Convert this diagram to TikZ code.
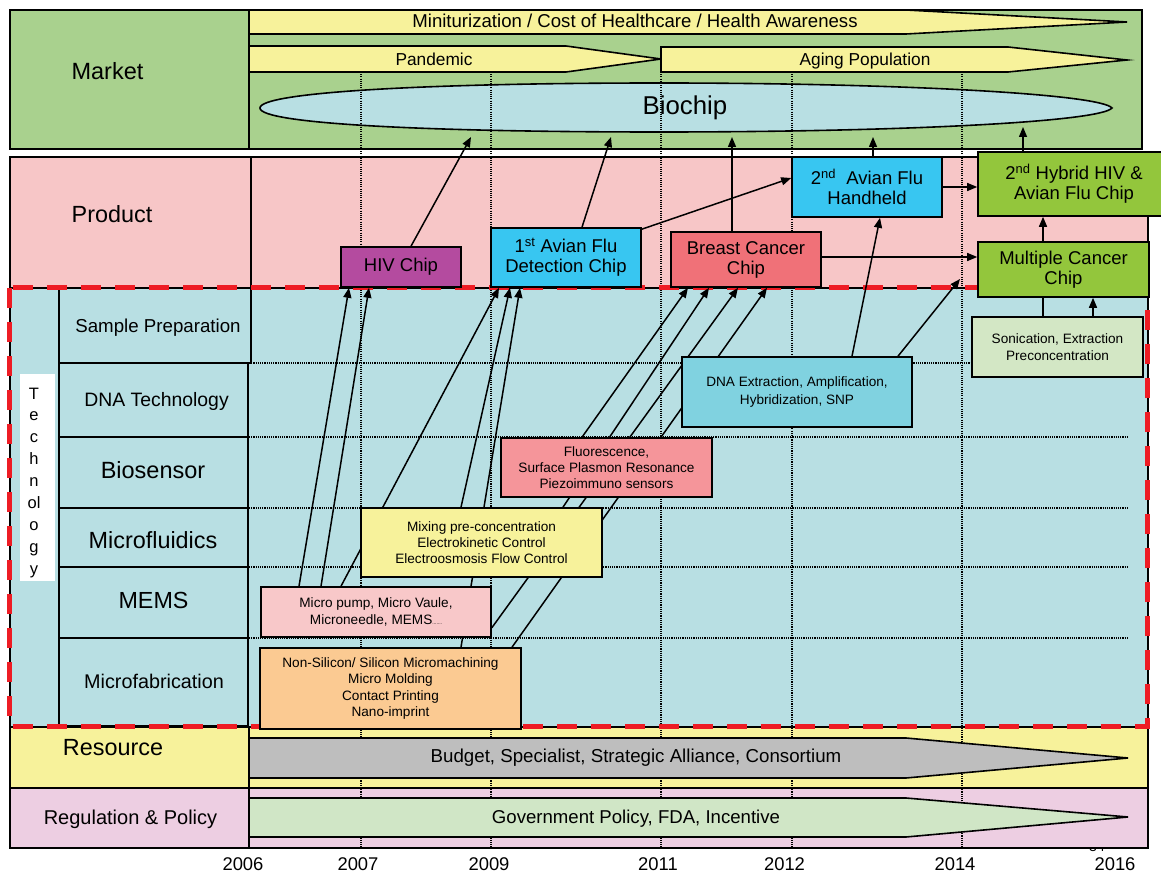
\documentclass[tikz,border=0pt]{standalone}
\usepackage{fontspec}
\setmainfont{Liberation Sans}
\usetikzlibrary{arrows.meta}
\pgfdeclarelayer{back}
\pgfdeclarelayer{mid}
\pgfsetlayers{back,mid,main}
\definecolor{mkt}{HTML}{A9D18E}
\definecolor{ylw}{HTML}{F7F29B}
\definecolor{bio}{HTML}{B8DFE3}
\definecolor{prd}{HTML}{F7C6C7}
\definecolor{hivc}{HTML}{B44B9F}
\definecolor{cyanc}{HTML}{38C6F1}
\definecolor{brc}{HTML}{F07178}
\definecolor{grn}{HTML}{93C63C}
\definecolor{sonc}{HTML}{D3E7C5}
\definecolor{dnac}{HTML}{80D2E0}
\definecolor{fluc}{HTML}{F5959A}
\definecolor{mpc}{HTML}{F8C8C9}
\definecolor{nsc}{HTML}{FBCA92}
\definecolor{gry}{HTML}{BEBEBE}
\definecolor{regc}{HTML}{EDCEE2}
\definecolor{govc}{HTML}{D0E6C6}
\definecolor{redd}{HTML}{EE1C24}
\begin{document}
\begin{tikzpicture}[x=1pt,y=-1pt,
  frame/.style={line width=1.6pt},
  prod/.style={draw, line width=1.6pt, inner sep=0pt, align=center, font=\fontsize{18.5}{20}\selectfont},
  techbox/.style={draw, line width=1.6pt, inner sep=0pt, align=center, font=\fontsize{13.6}{16.3}\selectfont},
  conn/.style={line width=1.5pt, -{Triangle[length=10pt,width=8pt]}},
  gridline/.style={line width=1.1pt, dash pattern=on 1.1pt off 1.1pt},
  lbl/.style={anchor=base, inner sep=0pt},
  bigarrow/.style={line width=1.6pt},
  reddash/.style={draw=redd, line width=5pt, dash pattern=on 20pt off 14pt}
]
\useasboundingbox (0,0) rectangle (1161,874);

\begin{pgfonlayer}{back}
  \node[lbl, font=\fontsize{14}{14}\selectfont] (pg) at (1097,851) {34};
  % Market
  \draw[frame, fill=mkt] (10,10) rectangle (1142,149);
  \draw[frame] (249,10) -- (249,149);
  % Product
  \draw[frame, fill=prd] (10,157) rectangle (1148,288);
  \draw[frame] (251,157) -- (251,288);
  % Technology
  \draw[frame, fill=bio] (10,288) rectangle (1148,727);
  \fill[white] (20,374) rectangle (55,581);
  \draw[frame] (59,288) rectangle (251,363);
  \draw[frame] (59,363) rectangle (248,437);
  \draw[frame] (59,437) rectangle (248,508);
  \draw[frame] (59,508) rectangle (248,567);
  \draw[frame] (59,567) rectangle (248,638);
  \draw[frame] (59,638) rectangle (248,726);
  % Resource / Regulation
  \draw[frame, fill=ylw] (10,727) rectangle (1148,788);
  \draw[frame] (249,727) -- (249,788);
  \draw[frame, fill=regc] (10,788) rectangle (1148,848);
  \draw[frame] (249,788) -- (249,848);
  % Biochip lens
  \draw[frame, fill=bio] (260,108) .. controls (260,92) and (430,83) .. (660,83)
     .. controls (900,83) and (1100,94) .. (1112,108)
     .. controls (1100,122) and (900,132) .. (660,132)
     .. controls (430,132) and (260,124) .. (260,108) -- cycle;
  % grid
  \foreach \gx in {361,491,661,792,962} \draw[gridline] (\gx,72) -- (\gx,848);
  \foreach \gy in {363,437,508,567,638} \draw[gridline] (249,\gy) -- (1128,\gy);
\end{pgfonlayer}

\begin{pgfonlayer}{mid}
  \draw[reddash] (9,288) rectangle (1147,726);
  \draw[bigarrow, fill=ylw] (249,10) -- (906,10) -- (1127,22) -- (906,34) -- (249,34) -- cycle;
  \draw[bigarrow, fill=ylw] (249,46) -- (566,46) -- (661,59) -- (566,72) -- (249,72) -- cycle;
  \draw[bigarrow, fill=ylw] (661,47) -- (1008,47) -- (1127,60) -- (1008,72) -- (661,72) -- cycle;
  \draw[bigarrow, fill=gry] (249,738) -- (906,738) -- (1128,758) -- (906,778) -- (249,778) -- cycle;
  \draw[bigarrow, fill=govc] (249,798) -- (906,798) -- (1128,817) -- (906,837) -- (249,837) -- cycle;
\end{pgfonlayer}

% row labels
\node[lbl, font=\fontsize{23.5}{26}\selectfont] (lmarket) at (107.5,80) {Market};
\node[lbl, font=\fontsize{23.4}{26}\selectfont] (lproduct) at (112,222.5) {Product};
\node[lbl, font=\fontsize{23.4}{26}\selectfont] (lresource) at (113,755) {Resource};
\node[lbl, font=\fontsize{20}{22}\selectfont] (lreg) at (130.5,824) {Regulation \& Policy};
\node[lbl, font=\fontsize{18.7}{20}\selectfont] (lsp) at (158,332.7) {Sample Preparation};
\node[lbl, font=\fontsize{19.4}{21}\selectfont] (ldna) at (156.5,406) {DNA Technology};
\node[lbl, font=\fontsize{23.5}{26}\selectfont] (lbio) at (153,478) {Biosensor};
\node[lbl, font=\fontsize{23.4}{26}\selectfont] (lmf) at (153,548) {Microfluidics};
\node[lbl, font=\fontsize{23.3}{26}\selectfont] (lmems) at (153.5,608) {MEMS};
\node[lbl, font=\fontsize{19.8}{22}\selectfont] (lmfab) at (154,688) {Microfabrication};
\foreach \c [count=\i from 0] in {T,e,c,h,n,ol,o,g,y}
  \node[lbl, font=\fontsize{16.5}{18}\selectfont] (tl\i) at (34,399+21.9*\i) {\c};

% band texts
\node[lbl, font=\fontsize{18.6}{20}\selectfont] (tmini) at (635,28) {Miniturization / Cost of Healthcare / Health Awareness};
\node[lbl, font=\fontsize{17.3}{19}\selectfont] (tpan) at (434,65.7) {Pandemic};
\node[lbl, font=\fontsize{17.3}{19}\selectfont] (tage) at (865,66) {Aging Population};
\node[lbl, font=\fontsize{25.8}{28}\selectfont] (tbio) at (685,115) {Biochip};
\node[lbl, font=\fontsize{18.7}{20}\selectfont] (tbud) at (636,762.7) {Budget, Specialist, Strategic Alliance, Consortium};
\node[lbl, font=\fontsize{18.6}{20}\selectfont] (tgov) at (636,823) {Government Policy, FDA, Incentive};

% years
\foreach \yr/\xx in {2006/243,2007/358,2009/489,2011/658,2012/784.5,2014/955,2016/1115}
  \node[lbl, font=\fontsize{18.4}{20}\selectfont] (y\yr) at (\xx,870) {\yr};

% product nodes
\node[prod, fill=hivc, minimum width=120pt, minimum height=40pt] (hiv) at (401,267) {HIV Chip};
\node[prod, fill=cyanc, minimum width=150pt, minimum height=59pt] (av1) at (566,257.5) {1\textsuperscript{st} Avian Flu\\Detection Chip};
\node[prod, fill=brc, minimum width=150pt, minimum height=55pt] (breast) at (746,259.5) {Breast Cancer\\Chip};
\node[prod, fill=cyanc, minimum width=150pt, minimum height=60pt] (av2) at (867,187) {2\textsuperscript{nd}~ Avian Flu\\Handheld};
\node[prod, fill=grn, minimum width=192pt, minimum height=64pt] (hyb) at (1074,184) {2\textsuperscript{nd} Hybrid HIV \&\\Avian Flu Chip};
\node[prod, fill=grn, minimum width=171pt, minimum height=55pt] (mcc) at (1063.5,269.5) {Multiple Cancer\\Chip};

% technology nodes
\node[techbox, fill=sonc, minimum width=171pt, minimum height=60pt, font=\fontsize{13.6}{17.4}\selectfont] (son) at (1057.5,347) {Sonication, Extraction\\Preconcentration};
\node[techbox, fill=dnac, minimum width=230pt, minimum height=70pt, font=\fontsize{13.6}{17.6}\selectfont] (dna) at (797,392) {DNA Extraction, Amplification,\\Hybridization, SNP};
\node[techbox, fill=fluc, minimum width=211pt, minimum height=59pt] (flu) at (606.5,467.5) {Fluorescence,\\Surface Plasmon Resonance\\Piezoimmuno sensors};
\node[techbox, fill=ylw, minimum width=241pt, minimum height=69pt] (mix) at (481.5,542.5) {Mixing pre-concentration\\Electrokinetic Control\\Electroosmosis Flow Control};
\node[techbox, fill=mpc, minimum width=230pt, minimum height=50pt] (mp) at (376,612) {Micro pump, Micro Vaule,\\Microneedle, MEMS{\fontsize{5}{5}\selectfont .......}};
\node[techbox, fill=nsc, minimum width=261pt, minimum height=81pt] (ns) at (390.5,688.5) {Non-Silicon/ Silicon Micromachining\\Micro Molding\\Contact Printing\\Nano-imprint};

% free ends
\coordinate (bc1) at (471,137);
\coordinate (bc2) at (611,137);
\coordinate (bc3) at (732,137);
\coordinate (bc4) at (873,137);
\coordinate (bc5) at (1023,127);
\coordinate (mcin) at (960,279);

\begin{pgfonlayer}{mid}
  \draw[conn] ([xshift=-77pt]mp.north) -- ([xshift=-52pt]hiv.south);
  \draw[conn] ([xshift=-55pt]mp.north) -- ([xshift=-32pt]hiv.south);
  \draw[conn] ([xshift=-35pt]mp.north) -- ([xshift=-67pt]av1.south);
  \draw[conn] ([xshift=-20.5pt]mix.north) -- ([xshift=-56pt]av1.south);
  \draw[conn] ([xshift=70.5pt]ns.north) -- ([xshift=-46pt]av1.south);
  \draw[conn] ([xshift=-24.5pt]flu.north) -- ([xshift=-58pt]breast.south);
  \draw[conn] ([xshift=81.5pt]mix.north) -- ([xshift=-37pt]breast.south);
  \draw[conn] ([yshift=10pt]mp.south east) -- ([xshift=-8pt]breast.south);
  \draw[conn] ([xshift=121.5pt]ns.north) -- ([xshift=21pt]breast.south);
  \draw[conn] ([xshift=55pt]dna.north) -- ([xshift=13pt]av2.south);
  \draw[conn] ([xshift=101pt]dna.north) -- (mcin);
  \draw[conn] ([xshift=35.5pt]son.north) -- ([xshift=29.5pt]mcc.south);
  \draw[line width=1.5pt] ([xshift=-14.5pt]son.north) -- ([xshift=-20.5pt]mcc.south);
  \draw[conn] ([xshift=-20.5pt]mcc.north) -- ([xshift=-31pt]hyb.south);
  \draw[conn] ([xshift=10pt]hiv.north) -- (bc1);
  \draw[conn] ([xshift=16pt]av1.north) -- (bc2);
  \draw[conn] ([xshift=-14pt]breast.north) -- (bc3);
  \draw[conn] ([xshift=6pt]av2.north) -- (bc4);
  \draw[conn] ([xshift=-51pt]hyb.north) -- (bc5);
  \draw[conn] ([yshift=-2pt]av1.north east) -- ([yshift=9pt]av2.west);
  \draw[conn] (av2.east) -- ([yshift=-3pt]hyb.west);
  \draw[conn] ([yshift=2.5pt]breast.east) -- ([yshift=12.5pt]mcc.west);
\end{pgfonlayer}
\end{tikzpicture}
\end{document}
